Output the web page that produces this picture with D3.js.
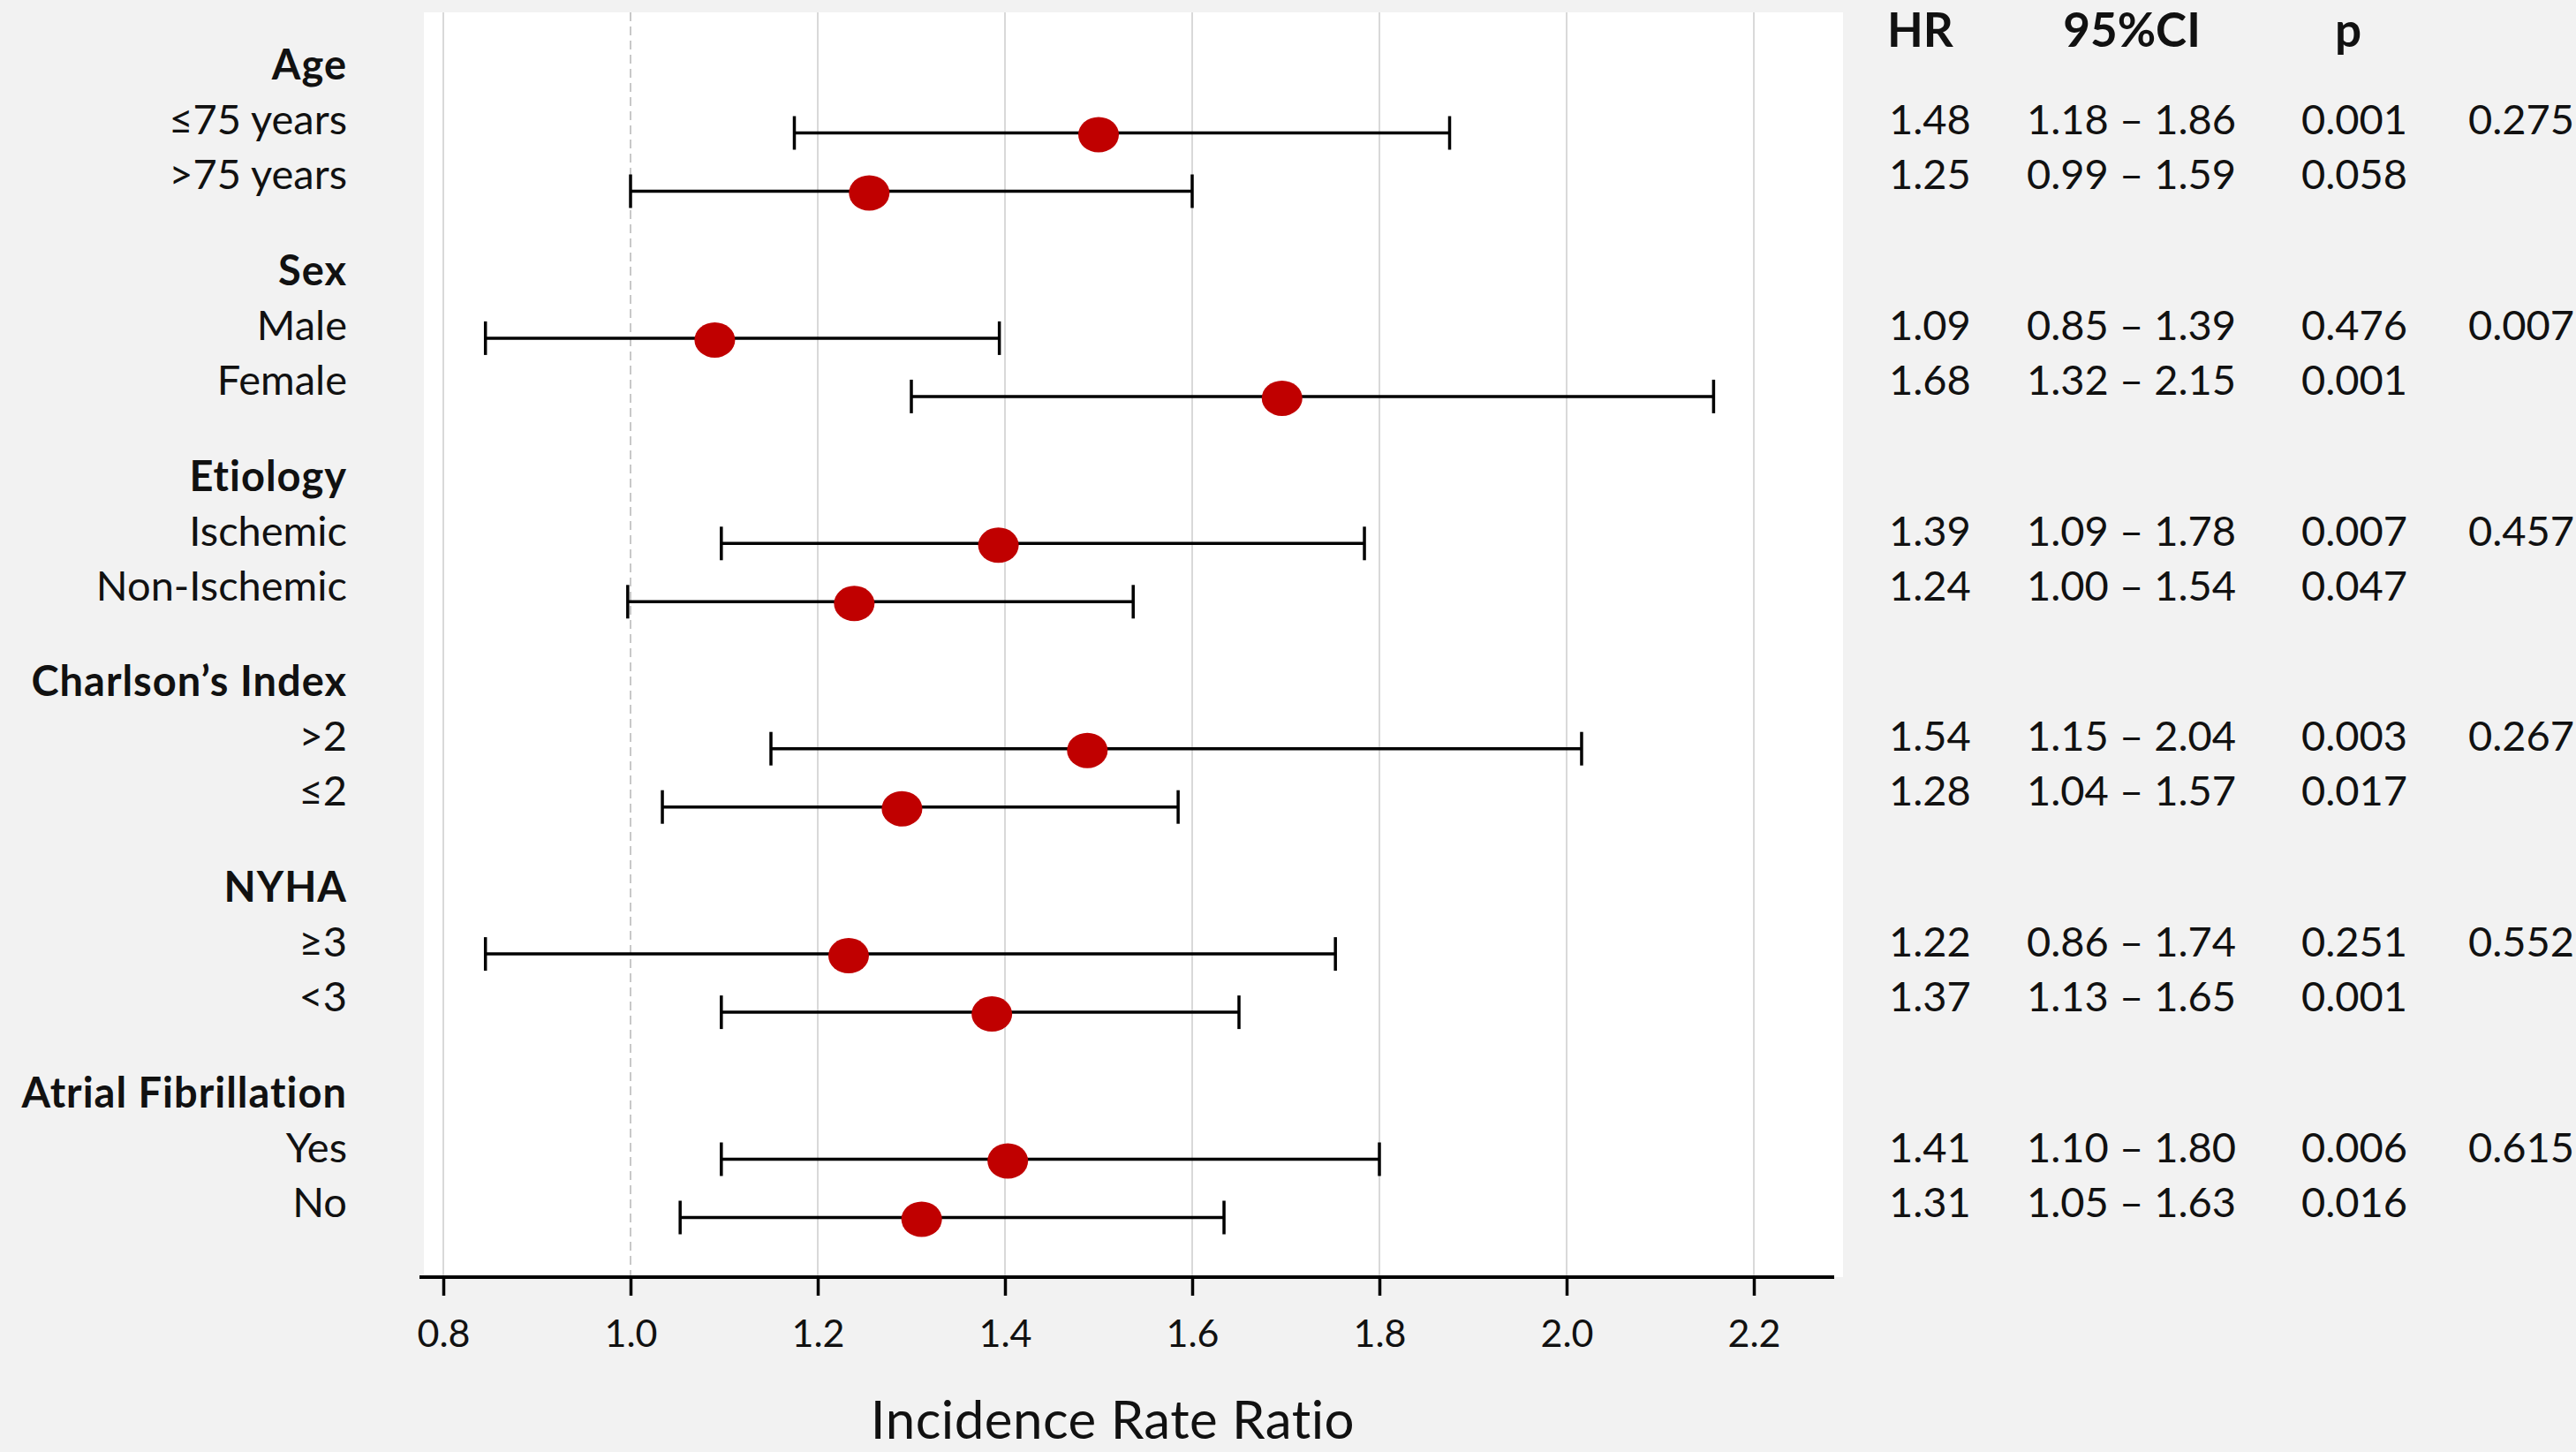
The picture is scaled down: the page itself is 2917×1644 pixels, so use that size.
<!DOCTYPE html>
<html>
<head>
<meta charset="utf-8">
<script src="https://cdn.jsdelivr.net/npm/d3@7"></script>
<style>
  html, body { margin: 0; padding: 0; background: #f2f2f2; }
  svg { display: block; }
  text { font-family: Lato, "Open Sans", sans-serif; fill: #111; }
</style>
</head>
<body>
<svg id="chart" width="2917" height="1644"></svg>
<script>
// ---------- data ----------
const groups = ["Age", "Sex", "Etiology", "Charlson\u2019s Index", "NYHA", "Atrial Fibrillation"];
const subgroups = ["\u226475 years", ">75 years", "Male", "Female", "Ischemic", "Non-Ischemic",
                   ">2", "\u22642", "\u22653", "<3", "Yes", "No"];
// values as drawn in the plot
const irrEst  = [1.50, 1.255, 1.09, 1.696, 1.393, 1.239, 1.488, 1.29, 1.233, 1.386, 1.403, 1.311];
const irrLow  = [1.175, 1.00, 0.845, 1.30, 1.097, 0.997, 1.15, 1.034, 0.845, 1.097, 1.097, 1.053];
const irrHigh = [1.875, 1.60, 1.394, 2.157, 1.784, 1.537, 2.016, 1.585, 1.753, 1.65, 1.80, 1.634];
// table columns
const hrText = ["1.48", "1.25", "1.09", "1.68", "1.39", "1.24", "1.54", "1.28", "1.22", "1.37", "1.41", "1.31"];
const ciText = ["1.18 \u2013 1.86", "0.99 \u2013 1.59", "0.85 \u2013 1.39", "1.32 \u2013 2.15", "1.09 \u2013 1.78",
                "1.00 \u2013 1.54", "1.15 \u2013 2.04", "1.04 \u2013 1.57", "0.86 \u2013 1.74", "1.13 \u2013 1.65",
                "1.10 \u2013 1.80", "1.05 \u2013 1.63"];
const pText = ["0.001", "0.058", "0.476", "0.001", "0.007", "0.047", "0.003", "0.017", "0.251", "0.001", "0.006", "0.016"];
const pInteraction = ["0.275", "0.007", "0.457", "0.267", "0.552", "0.615"];
const tableHeaders = ["HR", "95%CI", "p"];
const xTicks = [0.8, 1.0, 1.2, 1.4, 1.6, 1.8, 2.0, 2.2];
const refValue = 1.0;
const xTitle = "Incidence Rate Ratio";

// ---------- layout ----------
const svg = d3.select("#chart");
const panel = {x0: 480, x1: 2087, y0: 14, y1: 1446};
const x = d3.scaleLinear().domain([0.8, 2.2]).range([502, 1986]);
const gIdx = d3.range(groups.length);
const yText = d3.scaleLinear().domain([0, groups.length - 1]).range([90, 1254]);   // header baselines
const yPlot = d3.scaleLinear().domain([0, groups.length - 1]).range([150.5, 1312.5]); // first CI line per group
const textRowStep = 62, plotRowStep = 66;

const rows = subgroups.map((s, i) => {
  const g = Math.floor(i / 2), k = i % 2;
  return {label: s, g, k, est: irrEst[i], lo: irrLow[i], hi: irrHigh[i],
          hr: hrText[i], ci: ciText[i], p: pText[i],
          ty: yText(g) + textRowStep * (k + 1),
          py: yPlot(g) + plotRowStep * k};
});

// panel
svg.append("rect").attr("x", panel.x0).attr("y", panel.y0)
  .attr("width", panel.x1 - panel.x0).attr("height", panel.y1 - panel.y0).attr("fill", "#ffffff");

// grid lines
svg.append("g").selectAll("line").data(xTicks.filter(d => d !== refValue)).join("line")
  .attr("x1", d => x(d)).attr("x2", d => x(d))
  .attr("y1", panel.y0).attr("y2", panel.y1)
  .attr("stroke", "#d9d9d9").attr("stroke-width", 2);
svg.append("line")
  .attr("x1", x(refValue)).attr("x2", x(refValue))
  .attr("y1", panel.y0).attr("y2", panel.y1)
  .attr("stroke", "#c8c8c8").attr("stroke-width", 2).attr("stroke-dasharray", "10,6");

// axis
const axisG = svg.append("g").attr("transform", `translate(0,${panel.y1})`)
  .call(d3.axisBottom(x).tickValues(xTicks).tickFormat(d3.format(".1f")).tickSize(21).tickSizeOuter(0));
axisG.select(".domain").remove();
axisG.selectAll(".tick line").attr("stroke", "#000").attr("stroke-width", 3.5);
axisG.selectAll(".tick text").attr("y", 79).attr("dy", null)
  .style("font-family", "Lato, sans-serif").style("font-size", "43px").attr("fill", "#111");
svg.append("line").attr("x1", 475).attr("x2", 2077).attr("y1", panel.y1).attr("y2", panel.y1)
  .attr("stroke", "#000").attr("stroke-width", 4);

svg.append("text").attr("x", 1260).attr("y", 1629).attr("text-anchor", "middle")
  .style("font-size", "60px").style("letter-spacing", "0.5px").text(xTitle);

// CI lines and caps
const ci = svg.append("g");
ci.selectAll("line.ci").data(rows).join("line").attr("class", "ci")
  .attr("x1", d => x(d.lo)).attr("x2", d => x(d.hi)).attr("y1", d => d.py).attr("y2", d => d.py)
  .attr("stroke", "#000").attr("stroke-width", 3.5);
ci.selectAll("line.capl").data(rows).join("line").attr("class", "capl")
  .attr("x1", d => x(d.lo)).attr("x2", d => x(d.lo)).attr("y1", d => d.py - 19).attr("y2", d => d.py + 19)
  .attr("stroke", "#000").attr("stroke-width", 3.5);
ci.selectAll("line.caph").data(rows).join("line").attr("class", "caph")
  .attr("x1", d => x(d.hi)).attr("x2", d => x(d.hi)).attr("y1", d => d.py - 19).attr("y2", d => d.py + 19)
  .attr("stroke", "#000").attr("stroke-width", 3.5);
ci.selectAll("ellipse").data(rows).join("ellipse")
  .attr("cx", d => x(d.est)).attr("cy", d => d.py + 2).attr("rx", 23).attr("ry", 20)
  .attr("fill", "#c00000");

// left labels
svg.append("g").selectAll("text").data(gIdx).join("text")
  .attr("x", 393).attr("y", g => yText(g)).attr("text-anchor", "end")
  .style("font-size", "47px").style("font-weight", 700).style("letter-spacing", "1px")
  .text(g => groups[g]);
svg.append("g").selectAll("text").data(rows).join("text")
  .attr("x", 393).attr("y", d => d.ty).attr("text-anchor", "end")
  .style("font-size", "47px").text(d => d.label);

// table headers
const hdrPos = [{x: 2137, anchor: "start"}, {x: 2414, anchor: "middle"}, {x: 2659, anchor: "middle"}];
svg.append("g").selectAll("text").data(tableHeaders).join("text")
  .attr("x", (d, i) => hdrPos[i].x).attr("y", 53).attr("text-anchor", (d, i) => hdrPos[i].anchor)
  .style("font-size", "53px").style("font-weight", 700).text(d => d);

// table values
const tab = svg.append("g").style("font-size", "47px");
tab.selectAll("text.hr").data(rows).join("text").attr("class", "hr")
  .attr("x", 2139).attr("y", d => d.ty).text(d => d.hr);
tab.selectAll("text.ci").data(rows).join("text").attr("class", "ci")
  .attr("x", 2295).attr("y", d => d.ty).text(d => d.ci);
tab.selectAll("text.p").data(rows).join("text").attr("class", "p")
  .attr("x", 2606).attr("y", d => d.ty).text(d => d.p);
tab.selectAll("text.pi").data(gIdx).join("text").attr("class", "pi")
  .attr("x", 2795).attr("y", g => yText(g) + textRowStep).text(g => pInteraction[g]);
</script>
</body>
</html>
